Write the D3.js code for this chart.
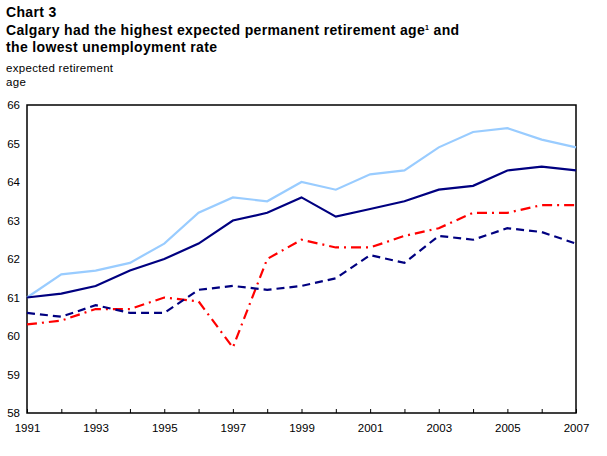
<!DOCTYPE html>
<html>
<head>
<meta charset="utf-8">
<script src="https://cdn.jsdelivr.net/npm/d3@7"></script>
<style>
  body { margin: 0; background: #fff; }
  svg { font-family: Arial, "Liberation Sans", sans-serif; }
</style>
</head>
<body>
<div id="chart"></div>
<script>
var years = d3.range(1991, 2008);
var yTicks = [58, 59, 60, 61, 62, 63, 64, 65, 66];
var xTickLabels = [1991, 1993, 1995, 1997, 1999, 2001, 2003, 2005, 2007];

var calgary = [61.0, 61.6, 61.7, 61.9, 62.4, 63.2, 63.6, 63.5, 64.0, 63.8, 64.2, 64.3, 64.9, 65.3, 65.4, 65.1, 64.9];
var seriesNavy = [61.0, 61.1, 61.3, 61.7, 62.0, 62.4, 63.0, 63.2, 63.6, 63.1, 63.3, 63.5, 63.8, 63.9, 64.3, 64.4, 64.3];
var seriesRed = [60.3, 60.4, 60.7, 60.7, 61.0, 60.9, 59.7, 62.0, 62.5, 62.3, 62.3, 62.6, 62.8, 63.2, 63.2, 63.4, 63.4];
var seriesDashed = [60.6, 60.5, 60.8, 60.6, 60.6, 61.2, 61.3, 61.2, 61.3, 61.5, 62.1, 61.9, 62.6, 62.5, 62.8, 62.7, 62.4];

var svgWidth = 607;
var svgHeight = 456;
var margin = { top: 105, right: 31, bottom: 43, left: 27 };
var width = svgWidth - margin.left - margin.right;
var height = svgHeight - margin.top - margin.bottom;

var svg = d3.select("#chart")
  .append("svg")
  .attr("width", svgWidth)
  .attr("height", svgHeight);

// titles
svg.append("text").attr("x", 6).attr("y", 17)
  .style("font-size", "14px").style("font-weight", "bold")
  .style("letter-spacing", "0.35px").text("Chart 3");
var t1 = svg.append("text").attr("x", 6).attr("y", 35)
  .style("font-size", "14px").style("font-weight", "bold")
  .style("letter-spacing", "0.35px");
t1.append("tspan").text("Calgary had the highest expected permanent retirement age");
t1.append("tspan").attr("dy", -5).style("font-size", "7px").text("1");
t1.append("tspan").attr("dy", 5).text(" and");
svg.append("text").attr("x", 6).attr("y", 52)
  .style("font-size", "14px").style("font-weight", "bold")
  .style("letter-spacing", "0.35px").text("the lowest unemployment rate");

svg.append("text").attr("x", 6).attr("y", 72)
  .style("font-size", "11.5px").style("letter-spacing", "0.3px").text("expected retirement");
svg.append("text").attr("x", 6).attr("y", 86)
  .style("font-size", "11.5px").style("letter-spacing", "0.3px").text("age");

var chartGroup = svg.append("g")
  .attr("transform", `translate(${margin.left}, ${margin.top})`);

var xScale = d3.scaleLinear().domain([1991, 2007]).range([0, width]);
var yScale = d3.scaleLinear().domain([58, 66]).range([height, 0]);

// frame
chartGroup.append("rect")
  .attr("width", width).attr("height", height)
  .attr("fill", "none").attr("stroke", "#000").attr("stroke-width", 1.5);

// x axis, ticks pointing inward
var xAxis = d3.axisBottom(xScale)
  .tickValues(years)
  .tickSize(-4)
  .tickPadding(11)
  .tickFormat(d => xTickLabels.includes(d) ? d : "");
var gx = chartGroup.append("g")
  .attr("transform", `translate(0,${height})`)
  .call(xAxis);
gx.select(".domain").remove();
gx.selectAll("line").attr("stroke", "#000");
gx.selectAll("text").style("font-size", "11.5px").attr("fill", "#000")
  .style("font-family", "Arial, 'Liberation Sans', sans-serif");

var yAxis = d3.axisLeft(yScale).tickValues(yTicks).tickSize(0).tickPadding(7);
var gy = chartGroup.append("g").call(yAxis);
gy.select(".domain").remove();
gy.selectAll("text").style("font-size", "11.5px").attr("fill", "#000")
  .style("font-family", "Arial, 'Liberation Sans', sans-serif");

var line = d3.line()
  .x((d, i) => xScale(years[i]))
  .y(d => yScale(d));

var series = [
  { values: calgary, color: "#99ccff", dash: null },
  { values: seriesNavy, color: "#000080", dash: null },
  { values: seriesRed, color: "#ff0000", dash: "10,5,2,5" },
  { values: seriesDashed, color: "#000080", dash: "8,5" }
];

series.forEach(function(s) {
  chartGroup.append("path")
    .datum(s.values)
    .attr("d", line)
    .attr("fill", "none")
    .attr("stroke", s.color)
    .attr("stroke-width", 2.2)
    .attr("stroke-dasharray", s.dash);
});
</script>
</body>
</html>
